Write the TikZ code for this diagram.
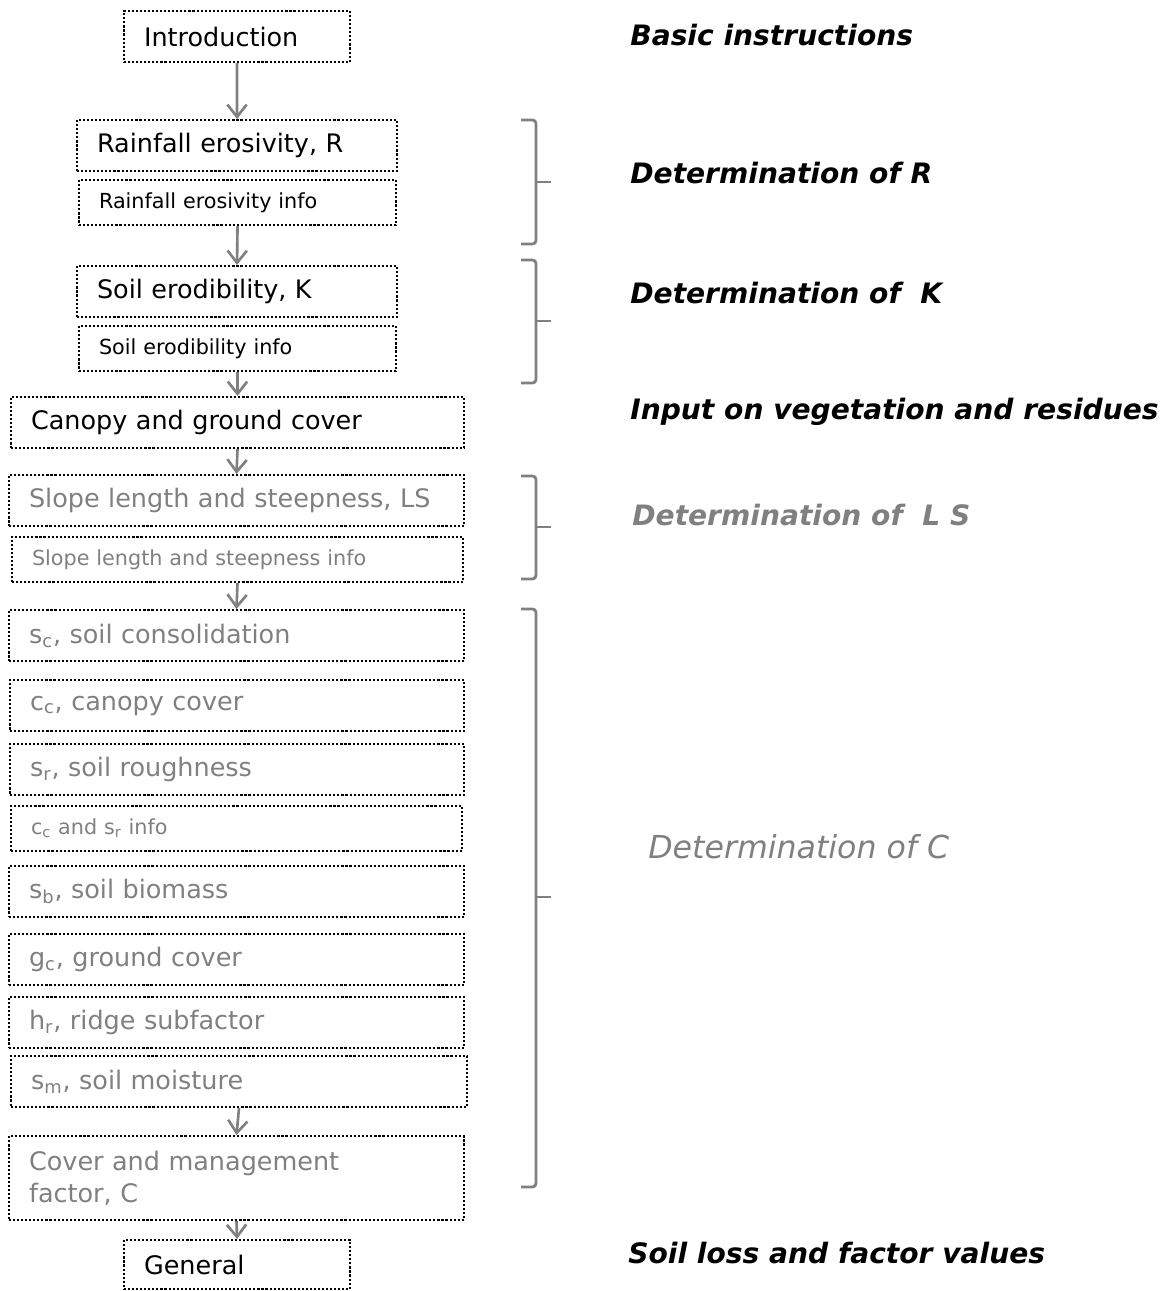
\documentclass[tikz,border=0pt]{standalone}
\usepackage{fontspec}
\setmainfont{DejaVu Sans}
\usetikzlibrary{arrows.meta}
\definecolor{flowgray}{RGB}{128,128,128}
\tikzset{
  box/.style={rectangle, draw=black, line width=1.2pt, dash pattern=on 1.2pt off 1.1pt,
    anchor=north west, align=left, inner xsep=0.4cm, inner ysep=0pt},
  mainbox/.style={box, minimum height=1.02cm, font=\fontsize{14.5}{18}\selectfont},
  infobox/.style={box, minimum height=0.9cm, font=\fontsize{11.8}{14}\selectfont},
  narrow/.style={text width=3.72cm},
  mid/.style={text width=5.6cm},
  wide/.style={text width=8.3cm},
  grey/.style={text=flowgray},
  flow/.style={draw=flowgray, line width=1.5pt, -{Straight Barb[length=7pt,width=11pt]}},
  brace/.style={draw=flowgray, line width=1.6pt, rounded corners=2pt},
  heading/.style={anchor=west, inner sep=0pt, font=\fontsize{16}{19}\bfseries\itshape\selectfont}
}
\begin{document}
\begin{tikzpicture}[x=0.02cm,y=-0.02cm]
  \useasboundingbox (0,0) rectangle (1171,1291);
  % flow chart boxes
  \node[mainbox,narrow] (intro) at (123,10) {Introduction};
  \node[mainbox,mid] (rain) at (76,119) {Rainfall erosivity, R};
  \node[infobox,mid,text width=5.54cm] (raininfo) at (78,179) {Rainfall erosivity info};
  \node[mainbox,mid] (soil) at (76,265) {Soil erodibility, K};
  \node[infobox,mid,text width=5.54cm] (soilinfo) at (78,325) {Soil erodibility info};
  \node[mainbox,wide,text width=8.26cm] (canopy) at (10,396) {Canopy and ground cover};
  \node[mainbox,wide,grey] (slope) at (8,474) {Slope length and steepness, LS};
  \node[infobox,wide,grey,text width=8.22cm] (slopeinfo) at (11,536) {Slope length and steepness info};
  \node[mainbox,wide,grey] (sc) at (8,609) {s\textsubscript{c}, soil consolidation};
  \node[mainbox,wide,grey,text width=8.28cm] (cc) at (9,679) {c\textsubscript{c}, canopy cover};
  \node[mainbox,wide,grey,text width=8.28cm] (sr) at (9,743) {s\textsubscript{r}, soil roughness};
  \node[infobox,wide,grey,text width=8.22cm] (ccinfo) at (10,805) {c\textsubscript{c} and s\textsubscript{r} info};
  \node[mainbox,wide,grey] (sb) at (8,865) {s\textsubscript{b}, soil biomass};
  \node[mainbox,wide,grey] (gc) at (8,933) {g\textsubscript{c}, ground cover};
  \node[mainbox,wide,grey] (hr) at (8,996) {h\textsubscript{r}, ridge subfactor};
  \node[mainbox,wide,grey,text width=8.32cm] (sm) at (10,1055) {s\textsubscript{m}, soil moisture};
  \node[mainbox,wide,grey,minimum height=1.68cm] (cfac) at (8,1135) {Cover and management\\factor, C};
  \node[mainbox,narrow,minimum height=0.98cm] (general) at (123,1239) {General};

  % arrows
  \draw[flow] (intro.south) -- (rain.north);
  \draw[flow] (raininfo.south) -- (soil.north);
  \draw[flow] (soilinfo.south) -- (canopy.north);
  \draw[flow] (canopy.south) -- (slope.north);
  \draw[flow] (slopeinfo.south) -- (sc.north);
  \draw[flow] (sm.south) -- (cfac.north);
  \draw[flow] (cfac.south) -- (general.north);

  % braces
  \draw[brace] (521,120) -| (536,244) -- (521,244);
  \draw[brace] (536,182) -- (551,182);
  \draw[brace] (521,260) -| (536,383) -- (521,383);
  \draw[brace] (536,321) -- (551,321);
  \draw[brace] (521,476) -| (536,579) -- (521,579);
  \draw[brace] (536,527) -- (551,527);
  \draw[brace] (521,609) -| (536,1187) -- (521,1187);
  \draw[brace] (536,897) -- (551,897);

  % headings
  \node[heading] (basic) at (630,35) {Basic instructions};
  \node[heading] (detR) at (630,173) {Determination of R};
  \node[heading] (detK) at (630,293) {Determination of\ \ K};
  \node[heading] (veg) at (630,412) {Input on vegetation and residues};
  \node[heading,text=flowgray] (detLS) at (632,515) {Determination of\ \ L S};
  \node[heading,text=flowgray,font=\fontsize{18}{21}\itshape\selectfont] (detC) at (648,847) {Determination of C};
  \node[heading] (loss) at (628,1253) {Soil loss and factor values};
\end{tikzpicture}
\end{document}
